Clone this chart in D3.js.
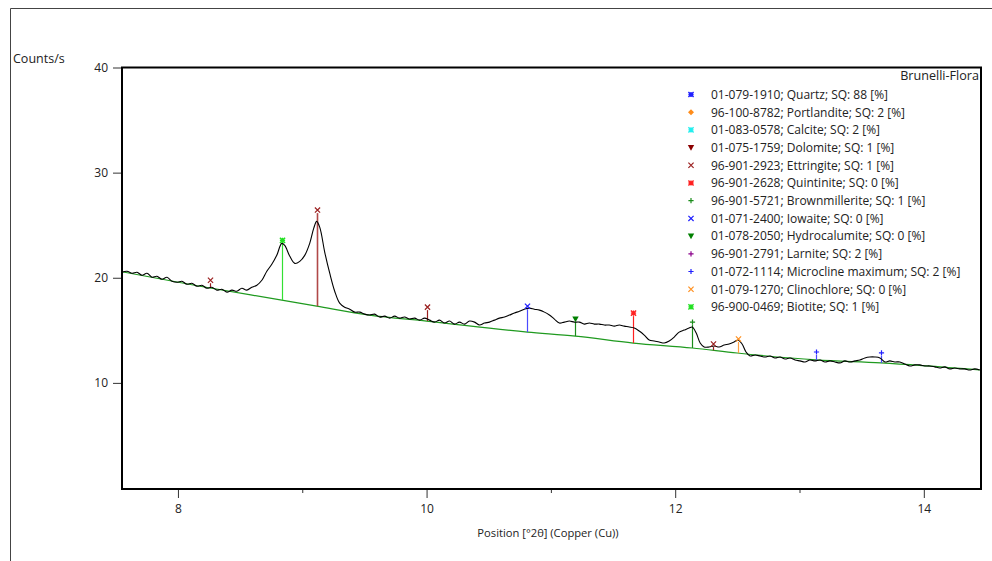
<!DOCTYPE html>
<html><head><meta charset="utf-8">
<script src="https://cdn.jsdelivr.net/npm/d3@7"></script>
<style>
body{margin:0;background:#fff}
text{font-family:"Open Sans","Noto Sans",sans-serif;fill:#222}
</style>
</head><body>
<svg id="c" width="992" height="561"></svg>
<script>
// ---- data ----
const scanPos = [7.550,7.590,7.631,7.671,7.711,7.751,7.791,7.831,7.871,7.912,7.952,7.992,8.032,8.072,8.112,8.153,8.193,8.233,8.273,8.313,8.353,8.394,8.434,8.474,8.514,8.554,8.594,8.635,8.675,8.715,8.755,8.795,8.835,8.859,8.900,8.940,8.980,9.020,9.060,9.092,9.116,9.141,9.181,9.221,9.261,9.301,9.341,9.382,9.422,9.462,9.502,9.542,9.582,9.622,9.663,9.703,9.743,9.783,9.823,9.863,9.904,9.944,9.984,10.024,10.064,10.104,10.145,10.185,10.225,10.265,10.305,10.345,10.386,10.426,10.466,10.506,10.546,10.586,10.627,10.667,10.707,10.747,10.787,10.827,10.867,10.908,10.948,10.988,11.028,11.068,11.108,11.149,11.189,11.229,11.269,11.309,11.349,11.390,11.430,11.470,11.510,11.550,11.590,11.631,11.671,11.711,11.751,11.791,11.831,11.871,11.912,11.952,11.992,12.032,12.072,12.112,12.137,12.169,12.201,12.233,12.273,12.313,12.353,12.394,12.434,12.474,12.506,12.538,12.570,12.602,12.643,12.683,12.723,12.763,12.803,12.843,12.884,12.924,12.964,13.004,13.044,13.084,13.124,13.165,13.205,13.245,13.285,13.325,13.365,13.406,13.446,13.486,13.526,13.566,13.606,13.647,13.687,13.727,13.767,13.807,13.847,13.888,13.928,13.968,14.008,14.048,14.088,14.128,14.169,14.209,14.249,14.289,14.329,14.369,14.410,14.450];
const scanCounts = [20.52,20.62,20.43,20.52,20.24,20.43,20.05,20.14,19.86,20.05,19.67,19.57,19.67,19.38,19.48,19.19,19.29,19.00,19.10,18.82,18.91,18.63,18.82,18.72,19.00,18.82,19.10,19.29,19.76,20.62,21.28,22.13,23.27,23.08,22.04,21.37,21.56,22.13,23.27,24.69,25.36,24.79,22.42,20.43,18.72,17.58,17.20,17.01,16.73,16.73,16.54,16.45,16.54,16.26,16.35,16.16,16.35,16.16,16.26,16.07,16.16,15.97,16.16,15.97,15.78,15.97,15.69,15.88,15.59,15.78,15.59,15.88,15.78,15.50,15.69,15.78,15.97,16.16,16.26,16.45,16.64,16.82,17.01,17.11,17.01,16.92,16.73,16.45,16.07,15.69,15.78,15.88,15.78,15.78,15.59,15.69,15.59,15.59,15.50,15.50,15.40,15.50,15.40,15.31,15.21,14.93,14.55,14.08,13.98,13.89,13.79,13.98,14.36,14.83,15.02,15.21,15.31,14.74,13.79,13.41,13.41,13.51,13.41,13.60,13.70,13.89,14.08,13.70,12.94,12.56,12.65,12.56,12.46,12.56,12.37,12.46,12.27,12.37,12.18,12.09,11.99,12.18,12.09,12.18,11.99,12.09,11.99,11.90,12.09,11.99,12.09,12.18,12.37,12.46,12.46,12.37,11.99,12.09,11.99,11.99,11.80,11.61,11.71,11.71,11.61,11.61,11.52,11.42,11.52,11.33,11.42,11.33,11.33,11.23,11.33,11.23];

const baselinePos = [7.550,8.177,8.835,9.116,9.542,10.000,10.811,11.197,11.663,12.137,12.498,13.133,13.655,14.450];
const baselineCounts = [20.57,19.19,17.87,17.30,16.45,15.88,14.83,14.45,13.79,13.32,12.84,12.18,11.90,11.23];

const phaseNames = [
 "01-079-1910; Quartz; SQ: 88 [%]",
 "96-100-8782; Portlandite; SQ: 2 [%]",
 "01-083-0578; Calcite; SQ: 2 [%]",
 "01-075-1759; Dolomite; SQ: 1 [%]",
 "96-901-2923; Ettringite; SQ: 1 [%]",
 "96-901-2628; Quintinite; SQ: 0 [%]",
 "96-901-5721; Brownmillerite; SQ: 1 [%]",
 "01-071-2400; Iowaite; SQ: 0 [%]",
 "01-078-2050; Hydrocalumite; SQ: 0 [%]",
 "96-901-2791; Larnite; SQ: 2 [%]",
 "01-072-1114; Microcline maximum; SQ: 2 [%]",
 "01-079-1270; Clinochlore; SQ: 0 [%]",
 "96-900-0469; Biotite; SQ: 1 [%]"
];
const phaseSymbols = ["asterisk","diamond","asterisk","tri","x","asterisk","plus","x","tri","plus","plus","x","asterisk"];
const phaseColors = ["#2020ff","#ff8c1a","#22eeee","#8b0000","#9b2020","#ff2020","#1a8c1a","#2020ff","#008000","#8b008b","#2020ff","#ff9020","#22e022"];

// reference sticks: position, top intensity, phase index
const stickPos = [8.257,8.835,9.116,10.000,10.811,11.197,11.663,12.137,12.305,12.506,13.133,13.655];
const stickTop = [19.48,23.27,26.15,16.92,17.01,15.78,16.35,15.50,13.41,13.89,12.65,12.56];
const stickPhase = [4,12,4,4,7,8,5,6,4,11,10,10];
const stickColors = ["#9b2020","#33e033","#b04848","#9b2020","#4a4aff","#1a8c1a","#ff2020","#1a8c1a","#9b2020","#ffa040","#4a4aff","#4a4aff"];

const xTicks = [8,10,12,14];
const xMinor = [9,11,13];
const yTicks = [10,20,30,40];

// ---- drawing ----
const svg = d3.select("#c");
const L=122, R=981, T=67.5, B=488;
const x = d3.scaleLinear().domain([7.55,14.46]).range([L,R]);
const y = d3.scaleLinear().domain([0,40]).range([B,T]);
const base = d3.scaleLinear().domain(baselinePos).range(baselineCounts);

// outer frame
svg.append("path").attr("d","M10.5,561 V8.5 H992").attr("fill","none").attr("stroke","#444").attr("stroke-width",1);

svg.append("text").attr("x",13).attr("y",63).attr("font-size",12.5).text("Counts/s");

// y axis ticks
const yg = svg.append("g").attr("transform",`translate(${L},0)`)
  .call(d3.axisLeft(y).tickValues(yTicks).tickSize(9).tickPadding(5).tickFormat(d3.format("d")));
yg.select(".domain").remove();
yg.selectAll("line").attr("stroke","#333");
yg.selectAll("text").attr("font-size",12).style("font-family",'"Open Sans",sans-serif').attr("fill","#222");

// x axis
const xg = svg.append("g").attr("transform",`translate(0,${B+1})`)
  .call(d3.axisBottom(x).tickValues(xTicks).tickSize(9).tickPadding(6).tickFormat(d3.format("d")));
xg.select(".domain").remove();
xg.selectAll("line").attr("stroke","#333");
xg.selectAll("text").attr("font-size",12).style("font-family",'"Open Sans",sans-serif').attr("fill","#222");
const xm = svg.append("g").attr("transform",`translate(0,${B+1})`)
  .call(d3.axisBottom(x).tickValues(xMinor).tickSize(4).tickFormat(""));
xm.select(".domain").remove();
xm.selectAll("line").attr("stroke","#333");

svg.append("text").attr("x",548).attr("y",537).attr("text-anchor","middle").attr("font-size",11.2)
  .text("Position [°2θ] (Copper (Cu))");

// baseline
svg.append("path")
  .attr("d", d3.line().x(d=>x(d[0])).y(d=>y(d[1])).curve(d3.curveMonotoneX)(baselinePos.map((p,i)=>[p,baselineCounts[i]])))
  .attr("fill","none").attr("stroke","#1f9a1f").attr("stroke-width",1.2);

// sticks
stickPos.forEach((p,i)=>{
  svg.append("line").attr("x1",Math.round(x(p))+0.5).attr("x2",Math.round(x(p))+0.5)
    .attr("y1",y(base(p))).attr("y2",y(stickTop[i]))
    .attr("stroke",stickColors[i]).attr("stroke-width",i===2?1.6:1.2);
});

// scan
svg.append("path")
  .attr("d", d3.line().x(d=>x(d[0])).y(d=>y(d[1])).curve(d3.curveCatmullRom.alpha(0.5))(scanPos.map((p,i)=>[p,scanCounts[i]])))
  .attr("fill","none").attr("stroke","#000").attr("stroke-width",1.1);

function sym(g,type,cx,cy,color){
  const s=2.6;
  if(type==="asterisk"){
    g.append("path").attr("d",`M${cx-s},${cy}H${cx+s}M${cx},${cy-s}V${cy+s}M${cx-s},${cy-s}L${cx+s},${cy+s}M${cx-s},${cy+s}L${cx+s},${cy-s}`)
      .attr("stroke",color).attr("stroke-width",1.4).attr("fill","none");
  } else if(type==="x"){
    g.append("path").attr("d",`M${cx-s},${cy-s}L${cx+s},${cy+s}M${cx-s},${cy+s}L${cx+s},${cy-s}`)
      .attr("stroke",color).attr("stroke-width",1.2).attr("fill","none");
  } else if(type==="plus"){
    g.append("path").attr("d",`M${cx-s},${cy}H${cx+s}M${cx},${cy-s}V${cy+s}`)
      .attr("stroke",color).attr("stroke-width",1.2).attr("fill","none");
  } else if(type==="diamond"){
    g.append("path").attr("d",`M${cx},${cy-3}L${cx+3},${cy}L${cx},${cy+3}L${cx-3},${cy}Z`).attr("fill",color);
  } else if(type==="tri"){
    g.append("path").attr("d",`M${cx-3.2},${cy-2.6}L${cx+3.2},${cy-2.6}L${cx},${cy+3.2}Z`).attr("fill",color);
  }
}

// stick markers
const mg = svg.append("g");
stickPos.forEach((p,i)=>{
  const ph = stickPhase[i];
  sym(mg, phaseSymbols[ph], Math.round(x(p))+0.5, y(stickTop[i])-3, phaseColors[ph]);
});

// plot frame
svg.append("rect").attr("x",L).attr("y",T).attr("width",R-L).attr("height",B+1-T)
  .attr("fill","none").attr("stroke","#000").attr("stroke-width",2);

// legend
svg.append("text").attr("x",979).attr("y",80).attr("text-anchor","end").attr("font-size",12.6).text("Brunelli-Flora");
const lg = svg.append("g");
phaseNames.forEach((n,i)=>{
  const cy = 94.5 + i*17.7;
  sym(lg, phaseSymbols[i], 691, cy, phaseColors[i]);
  lg.append("text").attr("x",711).attr("y",cy+4.3).attr("font-size",12).text(n);
});
</script>
</body></html>
